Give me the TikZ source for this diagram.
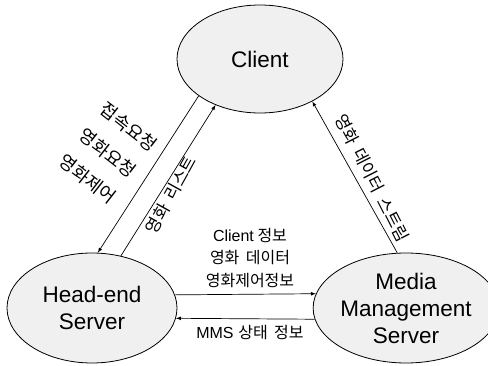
\documentclass[tikz,border=0pt]{standalone}
\usepackage{fontspec}
\setmainfont{Liberation Sans}
\newfontfamily\kr{Noto Sans CJK KR}
\usetikzlibrary{arrows}
\usetikzlibrary{shapes.geometric}

\begin{document}
\begin{tikzpicture}
[x=1pt,y=-1pt,
  nodedecorate/.style={shape=ellipse,draw,line width=0.8pt,fill=gray!12,
    inner sep=0pt,align=center,font=\fontsize{22.5}{27}\selectfont},%
  linedecorate/.style={-latex,line width=0.7pt},
  labeldecorate/.style={align=center,inner sep=0pt,font=\kr\fontsize{17}{22}\selectfont}]
\useasboundingbox (0,0) rectangle (488,366);
%% nodes or vertices
\foreach \nodename/\x/\y/\rx/\ry/\nodetext in {client/260/59/83/54/{Client},
  head/92/308/85/55/{Head-end\\Server},
  mms/406/308/81/55/{Media\\Management\\Server}}
{
  \node (\nodename) at (\x,\y) [nodedecorate,minimum width=2*\rx pt,
    minimum height=2*\ry pt] {\nodetext};
}
%% edges or lines
\path
\foreach \startnode/\endnode in {client.211/head.84, head.61/client.226,
  mms.99/client.321, head.9/mms.171, mms.187/head.353}
{
  (\startnode) edge[linedecorate] (\endnode)
};
%% labels
\node [labeldecorate,rotate=-38,font=\kr\fontsize{18}{33}\selectfont]
  at (108,153) {접속요청\\영화요청\\영화제어};
\node [labeldecorate,rotate=61] at (171,195) {영화\hspace{0.45em}리스트};
\node [labeldecorate,rotate=-63] at (372,178)
  {영화\hspace{0.45em}데이터\hspace{0.45em}스트림};
\node [labeldecorate,font=\kr\fontsize{16}{22.5}\selectfont] at (250,258)
  {{\rmfamily Client} 정보\\영화\hspace{0.4em}데이터\\영화제어정보};
\node [labeldecorate,font=\kr\fontsize{16}{22.5}\selectfont] at (250,333)
  {{\rmfamily MMS}\hspace{0.3em}상태\hspace{0.4em}정보};
\end{tikzpicture}
\end{document}
